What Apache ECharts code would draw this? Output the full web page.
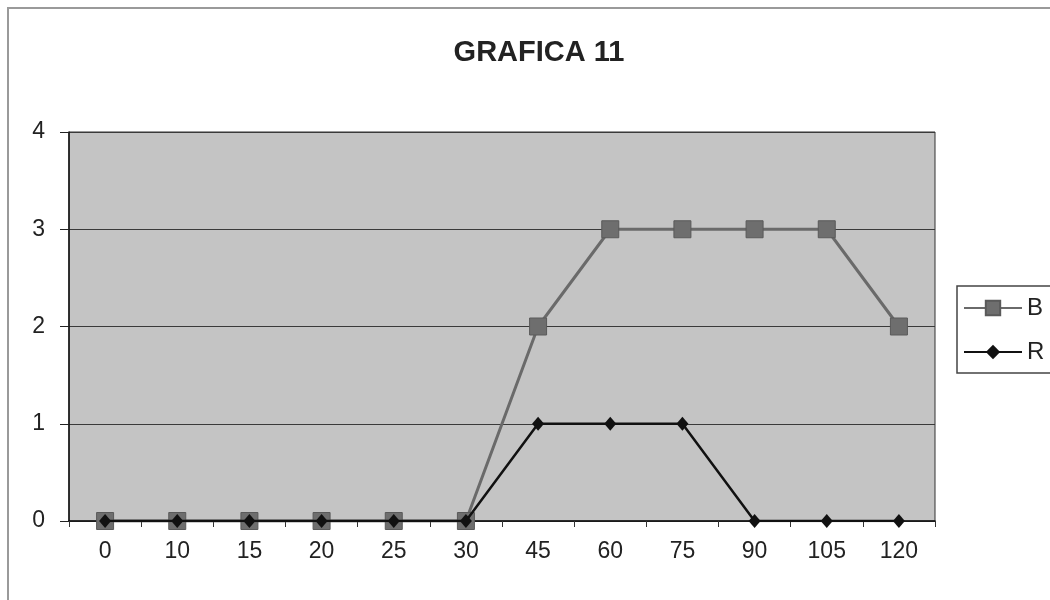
<!DOCTYPE html>
<html>
<head>
<meta charset="utf-8">
<script src="https://cdn.jsdelivr.net/npm/echarts@6/dist/echarts.min.js"></script>
<style>
  html, body { margin: 0; padding: 0; background: #fff; }
  #chart { width: 1050px; height: 600px; }
</style>
</head>
<body>
<div id="chart"></div>
<script>
// Minutes along the horizontal axis
const categories = ['0', '10', '15', '20', '25', '30', '45', '60', '75', '90', '105', '120'];
// Series values
const seriesB = [0, 0, 0, 0, 0, 0, 2, 3, 3, 3, 3, 2];
const seriesR = [0, 0, 0, 0, 0, 0, 1, 1, 1, 0, 0, 0];
const yTicks = [0, 1, 2, 3, 4];

const FONT = '"Liberation Sans", Arial, sans-serif';

const chart = echarts.init(document.getElementById('chart'));
chart.setOption({
  animation: false,
  backgroundColor: '#ffffff',
  title: {
    text: 'GRAFICA 11',
    left: 534,
    top: 33,
    textAlign: 'center',
    textStyle: { fontFamily: FONT, fontSize: 29, fontWeight: 'bold', color: '#222' }
  },
  graphic: [
    {
      type: 'polyline',
      shape: { points: [[8, 600], [8, 8], [1050, 8]] },
      style: { stroke: '#9a9a9a', lineWidth: 2, fill: null },
      silent: true
    }
  ],
  legend: {
    orient: 'vertical',
    left: 957,
    top: 286,
    padding: [10, 40, 9, 6],
    itemWidth: 58,
    itemHeight: 18,
    itemGap: 20,
    borderColor: '#444',
    borderWidth: 1.5,
    textStyle: { fontFamily: FONT, fontSize: 24, color: '#222' },
    data: ['B', 'R']
  },
  grid: { left: 69, right: 115, top: 132, bottom: 79, show: true, backgroundColor: '#c4c4c4', borderColor: '#333', borderWidth: 1 },
  xAxis: {
    type: 'category',
    data: categories,
    boundaryGap: true,
    axisLine: { lineStyle: { color: '#111', width: 1.5 } },
    axisTick: { show: true, length: 6, lineStyle: { color: '#333' } },
    axisLabel: { fontFamily: FONT, fontSize: 23, color: '#222', margin: 19 }
  },
  yAxis: {
    type: 'value',
    min: yTicks[0],
    max: yTicks[yTicks.length - 1],
    interval: 1,
    axisLine: { show: true, lineStyle: { color: '#111', width: 1.5 } },
    axisTick: { show: true, length: 9, lineStyle: { color: '#222' } },
    axisLabel: { fontFamily: FONT, fontSize: 23, color: '#222', margin: 24 },
    splitLine: { show: true, lineStyle: { color: '#3a3a3a', width: 1 } }
  },
  series: [
    {
      name: 'B',
      type: 'line',
      data: seriesB,
      symbol: 'rect',
      symbolSize: 17,
      itemStyle: { color: '#6e6e6e', borderColor: '#5a5a5a', borderWidth: 1 },
      lineStyle: { color: '#6a6a6a', width: 3 },
      z: 2
    },
    {
      name: 'R',
      type: 'line',
      data: seriesR,
      symbol: 'diamond',
      symbolSize: [12, 14],
      itemStyle: { color: '#111' },
      lineStyle: { color: '#111', width: 2.5 },
      z: 3
    }
  ]
});
</script>
</body>
</html>
